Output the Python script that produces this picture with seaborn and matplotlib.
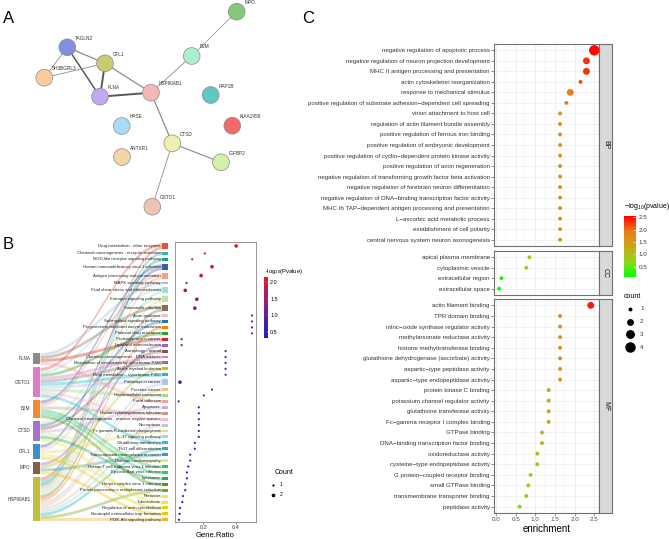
import numpy as np
import matplotlib
matplotlib.use('Agg')
import matplotlib.pyplot as plt
import seaborn as sns
import pandas as pd
from matplotlib.colors import LinearSegmentedColormap, Normalize
from matplotlib.colorbar import ColorbarBase

# ---------------- panel A: PPI network (STRING layout) ----------------
ppi_genes = ['MPO', 'B2M', 'TAGLN2', 'CFL1', 'SH3BGRL3', 'FLNA', 'HSP90AB1', 'RAP1B',
             'HPSE', 'KIAA1958', 'CTSD', 'ANTXR1', 'IGFBP2', 'GSTO1']
ppi_x = [236.7, 191.7, 67.3, 105.0, 44.3, 100.0, 151.0, 210.7, 121.7, 232.3, 172.3, 122.0, 221.0, 152.3]
ppi_y = [11.7, 56.0, 47.3, 63.3, 77.7, 96.7, 92.7, 95.0, 126.0, 125.7, 143.3, 157.0, 162.3, 206.7]
ppi_colors = ['#82C97A', '#A9EFCF', '#8090DE', '#CACA72', '#F9CC9E', '#C3A8F4', '#F5B7B8', '#62C7BD',
              '#AADAF6', '#F06A6A', '#EDF0AE', '#F4D6A6', '#D3F1A4', '#EFC3B2']
ppi_edges = [('TAGLN2', 'CFL1', 0.9), ('TAGLN2', 'FLNA', 1.1), ('TAGLN2', 'SH3BGRL3', 0.6),
             ('SH3BGRL3', 'CFL1', 0.6), ('CFL1', 'FLNA', 1.4), ('CFL1', 'HSP90AB1', 0.9),
             ('FLNA', 'HSP90AB1', 1.4), ('HSP90AB1', 'B2M', 0.6), ('B2M', 'MPO', 0.5),
             ('HSP90AB1', 'CTSD', 0.9), ('CTSD', 'IGFBP2', 0.8), ('CTSD', 'GSTO1', 0.6)]

# ---------------- panel B: KEGG sankey + dot plot ----------------
sankey_genes = ['FLNA', 'GSTO1', 'B2M', 'CTSD', 'CFL1', 'MPO', 'HSP90AB1']
sankey_gene_colors = ['#8A8A8A', '#E07BC8', '#F28A2E', '#A572C9', '#3D8FC6', '#8C5A48', '#BFBF3A']
kegg_terms = [
    'Drug metabolism - other enzymes', 'Chemical carcinogenesis - receptor activation',
    'NOD-like receptor signaling pathway', 'Human immunodeficiency virus 1 infection',
    'Antigen processing and presentation', 'MAPK signaling pathway',
    'Fluid shear stress and atherosclerosis', 'Estrogen signaling pathway', 'Salmonella infection',
    'Axon guidance', 'Sphingolipid signaling pathway', 'Progesterone-mediated oocyte maturation',
    'Platinum drug resistance', 'Proteoglycans in cancer', 'Lipid and atherosclerosis',
    'Autophagy - animal', 'Chemical carcinogenesis - DNA adducts',
    'Metabolism of xenobiotics by cytochrome P450', 'Acute myeloid leukemia',
    'Drug metabolism - cytochrome P450', 'Pathways in cancer', 'Prostate cancer',
    'Hepatocellular carcinoma', 'Focal adhesion', 'Apoptosis', 'Human cytomegalovirus infection',
    'Chemical carcinogenesis - reactive oxygen species', 'Necroptosis',
    'Fc gamma R-mediated phagocytosis', 'IL-17 signaling pathway', 'Glutathione metabolism',
    'Th17 cell differentiation', 'Transcriptional misregulation in cancer', 'Diabetic cardiomyopathy',
    'Human T-cell leukemia virus 1 infection', 'Epstein-Barr virus infection', 'Lysosome',
    'Herpes simplex virus 1 infection', 'Protein processing in endoplasmic reticulum', 'Pertussis',
    'Tuberculosis', 'Regulation of actin cytoskeleton', 'Neutrophil extracellular trap formation',
    'PI3K-Akt signaling pathway']
kegg_genes = [
    'GSTO1/HSP90AB1', 'HSP90AB1', 'HSP90AB1', 'B2M/CFL1', 'B2M/HSP90AB1', 'FLNA',
    'GSTO1/HSP90AB1', 'CTSD/HSP90AB1', 'FLNA/HSP90AB1', 'CFL1', 'CTSD', 'HSP90AB1',
    'GSTO1', 'FLNA', 'MPO', 'CTSD', 'GSTO1', 'GSTO1', 'MPO', 'GSTO1', 'GSTO1/HSP90AB1',
    'HSP90AB1', 'GSTO1', 'FLNA', 'CTSD', 'B2M', 'GSTO1', 'HSP90AB1', 'CFL1', 'HSP90AB1',
    'GSTO1', 'HSP90AB1', 'MPO', 'CTSD', 'B2M', 'B2M', 'CTSD', 'B2M', 'HSP90AB1', 'CFL1',
    'CTSD', 'CFL1', 'MPO', 'HSP90AB1']
kegg_ratio = [0.40, 0.21, 0.134, 0.254, 0.188, 0.10, 0.092, 0.162, 0.15,
              0.496, 0.496, 0.496, 0.496, 0.07, 0.07,
              0.336, 0.336, 0.336, 0.336, 0.336, 0.06, 0.254, 0.204, 0.052,
              0.174, 0.174, 0.174, 0.174, 0.174, 0.174, 0.15, 0.15, 0.122, 0.122,
              0.11, 0.102, 0.102, 0.092, 0.092, 0.078, 0.074, 0.06, 0.058, 0.054]
kegg_logp = [2.15, 1.75, 1.55, 1.85, 1.65, 1.45, 1.45, 1.4, 1.35,
             1.15, 1.15, 1.15, 1.15, 1.1, 1.1,
             1.05, 1.05, 1.05, 1.05, 1.05, 1.0, 0.95, 0.9, 0.85,
             0.75, 0.75, 0.75, 0.75, 0.75, 0.75, 0.7, 0.7, 0.62, 0.62,
             0.58, 0.55, 0.55, 0.5, 0.5, 0.45, 0.42, 0.38, 0.35, 0.32]
kegg_colors = ['#E8513A', '#3BB3A5', '#1FA187', '#3C5AA6', '#F2A27E', '#A5B8D8', '#A6DED6',
               '#C5E3A0', '#8C6A4E', '#E5C4C4',
               '#1F77B4', '#FF7F0E', '#2CA02C', '#D62728', '#9467BD', '#8C564B', '#E377C2',
               '#7F7F7F', '#BCBD22', '#17BECF',
               '#AEC7E8', '#FFBB78', '#98DF8A', '#FF9896', '#C5B0D5', '#C49C94', '#F7B6D2',
               '#C7C7C7', '#DBDB8D', '#9EDAE5',
               '#2BC3D0', '#26B5B0', '#3AA0A8', '#D8F07A', '#33C26A', '#2DCC70', '#22B14C',
               '#4C9A2A', '#7BA428', '#E8E070', '#F0E442', '#E6D200', '#F2C500', '#F0B030']

# ---------------- panel C: GO enrichment ----------------
bp_terms = ['negative regulation of apoptotic process',
            'negative regulation of neuron projection development',
            'MHC II antigen processing and presentation', 'actin cytoskeleton reorganization',
            'response to mechanical stimulus',
            'positive regulation of substrate adhesion\u2212dependent cell spreading',
            'virion attachment to host cell', 'regulation of actin filament bundle assembly',
            'positive regulation of ferrous iron binding', 'positive regulation of embryonic development',
            'positive regulation of cyclin\u2212dependent protein kinase activity',
            'positive regulation of axon regeneration',
            'negative regulation of transforming growth factor beta activation',
            'negative regulation of forebrain neuron differentiation',
            'negative regulation of DNA\u2212binding transcription factor activity',
            'MHC Ib TAP\u2212dependent antigen processing and presentation',
            'L\u2212ascorbic acid metabolic process', 'establishment of cell polarity',
            'central nervous system neuron axonogenesis']
bp_enrich = [2.5, 2.3, 2.3, 2.15, 1.89, 1.79] + [1.63] * 13
bp_count = [4, 2, 2, 1, 2, 1] + [1] * 13
cc_terms = ['apical plasma membrane', 'cytoplasmic vesicle', 'extracellular region', 'extracellular space']
cc_enrich = [0.85, 0.77, 0.14, 0.08]
cc_count = [1, 1, 1, 1]
mf_terms = ['actin filament binding', 'TPR domain binding', 'nitric\u2212oxide synthase regulator activity',
            'methylarsonate reductase activity', 'histone methyltransferase binding',
            'glutathione dehydrogenase (ascorbate) activity', 'aspartic\u2212type peptidase activity',
            'aspartic\u2212type endopeptidase activity', 'protein kinase C binding',
            'potassium channel regulator activity', 'glutathione transferase activity',
            'Fc\u2212gamma receptor I complex binding', 'GTPase binding',
            'DNA\u2212binding transcription factor binding', 'oxidoreductase activity',
            'cysteine\u2212type endopeptidase activity', 'G protein\u2212coupled receptor binding',
            'small GTPase binding', 'transmembrane transporter binding', 'peptidase activity']
mf_enrich = [2.41] + [1.63] * 7 + [1.34] * 4 + [1.17] * 2 + [1.05] * 2 + [0.88, 0.82, 0.77, 0.60]
mf_count = [2] + [1] * 19

W, H = 669, 539
plt.rcParams['font.family'] = ['Liberation Sans', 'DejaVu Sans']
plt.rcParams['mathtext.default'] = 'regular'

fig = plt.figure(figsize=(W / 100, H / 100), dpi=100)


def px_axes(x0, y0, x1, y1):
    return fig.add_axes([x0 / W, 1 - y1 / H, (x1 - x0) / W, (y1 - y0) / H])


def fig_text(x, y, s, **kw):
    fig.text(x / W, 1 - y / H, s, **kw)


# ---- A
axA = px_axes(0, 0, 300, 240)
idx = {g: i for i, g in enumerate(ppi_genes)}
for a, b, w in ppi_edges:
    shade = '#5a5a5a' if w > 1 else '#8c8c8c'
    axA.plot([ppi_x[idx[a]], ppi_x[idx[b]]], [ppi_y[idx[a]], ppi_y[idx[b]]],
             color=shade, lw=w, zorder=1, solid_capstyle='butt')
sns.scatterplot(x=ppi_x, y=ppi_y, hue=ppi_genes, palette=ppi_colors, s=145,
                edgecolor='#8a8a8a', linewidth=0.5, legend=False, ax=axA, zorder=2)
for g, x, y in zip(ppi_genes, ppi_x, ppi_y):
    axA.text(x + 7.5, y - 9, g, fontsize=3.4, color='#333333', va='center', ha='left', zorder=3)
axA.set_xlim(0, 300)
axA.set_ylim(240, 0)
axA.axis('off')

# ---- B: sankey
gap = 1.0
kegg_n = [len(s.split('/')) for s in kegg_genes]
term_top, pos = [], 0.0
for n in kegg_n:
    term_top.append(pos)
    pos += n + gap
total = pos - gap
gene_n = {g: sum(g in s.split('/') for s in kegg_genes) for g in sankey_genes}
left_total = sum(gene_n.values()) + gap * (len(sankey_genes) - 1)
gene_top, pos = {}, total - left_total
for g in sankey_genes:
    gene_top[g] = pos
    pos += gene_n[g] + gap
ylims = (total + 0.25, -0.35)

axS = px_axes(33, 242, 168, 522)
axS.set_xlim(0, 1)
axS.set_ylim(*ylims)
axS.axis('off')
xl, xr = 0.052, 0.953
xs = np.linspace(xl, xr, 60)
ss = (1 - np.cos(np.pi * (xs - xl) / (xr - xl))) / 2
gene_used = {g: 0 for g in sankey_genes}
# one ribbon per gene-pathway link, stacked in pathway order on the gene side
for i, genes in enumerate(kegg_genes):
    gl = sorted(genes.split('/'), key=sankey_genes.index)
    for j, g in enumerate(gl):
        ly = gene_top[g] + gene_used[g]
        gene_used[g] += 1
        ry = term_top[i] + j
        top = ly + (ry - ly) * ss
        axS.fill_between(xs, top, top + 1, color=kegg_colors[i], alpha=0.38, lw=0)
for g, c in zip(sankey_genes, sankey_gene_colors):
    axS.bar(xl / 2, gene_n[g], width=xl, bottom=gene_top[g], color=c, lw=0)
    axS.text(-0.02, gene_top[g] + gene_n[g] / 2, g, fontsize=3.3, color='#333333',
             ha='right', va='center')
for i, t in enumerate(kegg_terms):
    axS.bar((1 + xr) / 2, kegg_n[i], width=1 - xr, bottom=term_top[i], color=kegg_colors[i], lw=0)
    axS.text(xr - 0.005, term_top[i] + kegg_n[i] / 2, t, fontsize=3.1, color='#222222',
             ha='right', va='center')

# ---- B: dot plot
cmapB = LinearSegmentedColormap.from_list('bp', ['#1E1ED2', '#4A1EA8', '#7E1E88', '#B41C5C', '#E51C24'])
normB = Normalize(0.32, 2.15)
axB = px_axes(175, 242, 256, 522)
dfB = pd.DataFrame({'Gene.Ratio': kegg_ratio, 'logp': kegg_logp, 'Count': kegg_n,
                    'ypos': [t + n / 2 for t, n in zip(term_top, kegg_n)]})
sns.scatterplot(data=dfB, x='Gene.Ratio', y='ypos', hue='logp', palette=cmapB, hue_norm=normB,
                size='Count', sizes=(2.5, 7), size_norm=(1, 2), linewidth=0, legend=False, ax=axB)
axB.set_ylim(*ylims)
axB.set_xlim(0.03, 0.52)
axB.set_yticks([])
axB.set_ylabel('')
axB.set_xticks([0.2, 0.4])
axB.tick_params(axis='x', labelsize=4, length=1.5, width=0.4, pad=1, colors='#333333')
axB.set_xlabel('Gene.Ratio', fontsize=5.5, labelpad=1)
for sp in axB.spines.values():
    sp.set_color('#888888')
    sp.set_linewidth(0.6)

caxB = px_axes(264, 277, 268, 338)
cbB = ColorbarBase(caxB, cmap=cmapB, norm=normB, ticks=[0.5, 1.0, 1.5, 2.0])
cbB.outline.set_visible(False)
caxB.tick_params(labelsize=3.9, length=1, width=0.3, color='white', direction='in', pad=1.5)
fig_text(265, 271, '-log$_{10}$(Pvalue)', fontsize=4.2, va='center', ha='left')
# count legend B
legB = px_axes(268, 466, 300, 500)
legB.set_xlim(268, 300)
legB.set_ylim(500, 466)
legB.axis('off')
legB.text(275, 473, 'Count', fontsize=5, va='center', ha='left')
for k, c in enumerate([1, 2]):
    legB.scatter(273, 485 + 9.5 * k, s=2.5 + (c - 1) * 4.5, color='black', lw=0)
    legB.text(280, 485 + 9.5 * k, str(c), fontsize=3.6, va='center', ha='left')

# ---- C
cmapC = LinearSegmentedColormap.from_list('go', ['#00FF00', '#8ED81A', '#C8A814', '#EC7A18', '#FF0000'])
normC = Normalize(0.08, 2.55)
sizesC = (8, 57)
panels = [('BP', bp_terms, bp_enrich, bp_count, 44, 246),
          ('CC', cc_terms, cc_enrich, cc_count, 251, 295),
          ('MF', mf_terms, mf_enrich, mf_count, 299, 513)]
for name, terms, enr, cnt, y0, y1 in panels:
    ax = px_axes(494, y0, 599, y1)
    df = pd.DataFrame({'term': terms, 'enrichment': enr, 'count': cnt})
    ax.set_axisbelow(True)
    sns.scatterplot(data=df, x='enrichment', y='term', hue='enrichment', palette=cmapC, hue_norm=normC,
                    size='count', sizes=sizesC, size_norm=(1, 4), linewidth=0, legend=False,
                    ax=ax, zorder=3)
    ax.set_ylim(len(terms) - 0.4, -0.6)
    ax.set_xlim(-0.05, 2.62)
    ax.set_xticks(np.arange(0, 2.51, 0.5))
    ax.set_xticks(np.arange(0.25, 2.6, 0.5), minor=True)
    ax.grid(which='major', color='#EBEBEB', lw=0.5)
    ax.grid(which='minor', axis='x', color='#F2F2F2', lw=0.3)
    ax.tick_params(axis='y', labelsize=4.4, length=2, width=0.4, pad=1, colors='#333333')
    ax.tick_params(which='minor', length=0)
    ax.set_ylabel('')
    for sp in ax.spines.values():
        sp.set_color('#707070')
        sp.set_linewidth(0.8)
    if name == 'MF':
        ax.tick_params(axis='x', labelsize=4.5, length=2, width=0.4, pad=1, colors='#4D4D4D')
        ax.set_xticklabels(['0.0', '0.5', '1.0', '1.5', '2.0', '2.5'])
        ax.set_xlabel('enrichment', fontsize=7, labelpad=1.5)
    else:
        ax.tick_params(axis='x', length=0, labelbottom=False)
        ax.set_xlabel('')
    sx = px_axes(599, y0, 612, y1)
    sx.set_facecolor('#D9D9D9')
    sx.set_xticks([])
    sx.set_yticks([])
    for sp in sx.spines.values():
        sp.set_color('#707070')
        sp.set_linewidth(0.8)
    sx.text(0.5, 0.5, name, rotation=-90, fontsize=5, color='#1A1A1A',
            ha='center', va='center', transform=sx.transAxes)

caxC = px_axes(624, 216, 636, 277)
cbC = ColorbarBase(caxC, cmap=cmapC, norm=normC, ticks=[0.5, 1.0, 1.5, 2.0, 2.5])
cbC.outline.set_visible(False)
caxC.tick_params(labelsize=4.5, length=2, width=0.4, color='white', direction='in', pad=2,
                 labelcolor='#333333')
fig_text(624, 207, '\u2212log$_{10}$(pvalue)', fontsize=5, va='center', ha='left')
legC = px_axes(620, 290, 669, 355)
legC.set_xlim(620, 669)
legC.set_ylim(355, 290)
legC.axis('off')
legC.text(624, 297, 'count', fontsize=5, va='center', ha='left')
for k, c in enumerate([1, 2, 3, 4]):
    legC.scatter(630, 309 + 12.7 * k, s=sizesC[0] + (c - 1) / 3 * (sizesC[1] - sizesC[0]),
                 color='black', lw=0)
    legC.text(640, 309 + 12.7 * k, str(c), fontsize=4.5, va='center', ha='left', color='#333333')

fig_text(3, 23, 'A', fontsize=12)
fig_text(3, 249, 'B', fontsize=12)
fig_text(302, 23, 'C', fontsize=12)

fig.savefig('out.png', dpi=100)
